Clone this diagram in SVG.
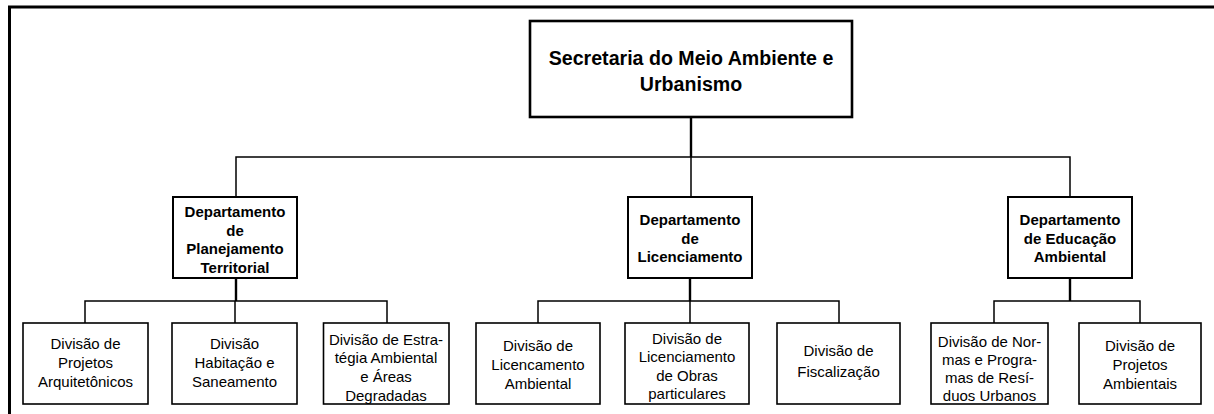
<svg xmlns="http://www.w3.org/2000/svg" width="1214" height="414" viewBox="0 0 1214 414">
<style>
.frame{fill:none;stroke:#000;stroke-width:3}
.box{fill:#fff;stroke:#000}
.top{stroke-width:2.6}
.dept{stroke-width:2}
.div{stroke-width:1.6}
.con{fill:none;stroke:#000;stroke-width:1.5}
.conb{fill:none;stroke:#000;stroke-width:2.4}
text{font-family:"Liberation Sans",Arial,sans-serif;fill:#000;text-anchor:middle}
.t1{font-size:19.6px;font-weight:bold}
.t2{font-size:15px;font-weight:bold}
.t3{font-size:15px}
</style>
<rect width="1214" height="414" fill="#fff"/>
<path class="frame" d="M9.5,414 V7 H1214"/>
<g id="connectors">
<path class="conb" d="M691,117 V157"/>
<path class="con" d="M236,197 V157 H1070 V197 M691,157 V197"/>
<path class="conb" d="M236,278 V301 M690,278 V301 M1070,278 V301"/>
<path class="con" d="M85,323 V301 H387 V323 M235,301 V323"/>
<path class="con" d="M538,323 V301 H839 V323 M690,301 V323"/>
<path class="con" d="M994,323 V301 H1140 V323"/>
</g>
<g id="secretaria">
<rect class="box top" x="530" y="21" width="322" height="96"/>
<text class="t1" x="691" y="65">Secretaria do Meio Ambiente e</text>
<text class="t1" x="691" y="91">Urbanismo</text>
</g>
<g id="dep-planejamento">
<rect class="box dept" x="173" y="197" width="124" height="81"/>
<text class="t2" x="235" y="217">Departamento</text>
<text class="t2" x="235" y="235.7">de</text>
<text class="t2" x="235" y="254.4">Planejamento</text>
<text class="t2" x="235" y="273.1">Territorial</text>
</g>
<g id="dep-licenciamento">
<rect class="box dept" x="628" y="197" width="124" height="81"/>
<text class="t2" x="690" y="225">Departamento</text>
<text class="t2" x="690" y="243.7">de</text>
<text class="t2" x="690" y="262.4">Licenciamento</text>
</g>
<g id="dep-educacao">
<rect class="box dept" x="1008" y="197" width="124" height="81"/>
<text class="t2" x="1070" y="225">Departamento</text>
<text class="t2" x="1070" y="243.7">de Educação</text>
<text class="t2" x="1070" y="262.4">Ambiental</text>
</g>
<g id="div-projetos-arq">
<rect class="box div" x="23" y="323" width="125" height="81"/>
<text class="t3" x="85.5" y="348.5">Divisão de</text>
<text class="t3" x="85.5" y="367.5">Projetos</text>
<text class="t3" x="85.5" y="386.5">Arquitetônicos</text>
</g>
<g id="div-habitacao">
<rect class="box div" x="172" y="323" width="125" height="81"/>
<text class="t3" x="234.5" y="348.5">Divisão</text>
<text class="t3" x="234.5" y="367.5">Habitação e</text>
<text class="t3" x="234.5" y="386.5">Saneamento</text>
</g>
<g id="div-estrategia">
<rect class="box div" x="323.5" y="323" width="125.5" height="81"/>
<text class="t3" x="386" y="344.5">Divisão de Estra-</text>
<text class="t3" x="386" y="363.2">tégia Ambiental</text>
<text class="t3" x="386" y="381.9">e Áreas</text>
<text class="t3" x="386" y="400.6">Degradadas</text>
</g>
<g id="div-lic-ambiental">
<rect class="box div" x="476" y="323" width="124" height="81"/>
<text class="t3" x="538" y="351">Divisão de</text>
<text class="t3" x="538" y="370">Licencamento</text>
<text class="t3" x="538" y="389">Ambiental</text>
</g>
<g id="div-lic-obras">
<rect class="box div" x="625" y="323" width="124" height="81"/>
<text class="t3" x="687" y="343.5">Divisão de</text>
<text class="t3" x="687" y="362">Licenciamento</text>
<text class="t3" x="687" y="380.5">de Obras</text>
<text class="t3" x="687" y="399">particulares</text>
</g>
<g id="div-fiscalizacao">
<rect class="box div" x="777" y="323" width="123" height="81"/>
<text class="t3" x="838.5" y="356">Divisão de</text>
<text class="t3" x="838.5" y="377">Fiscalização</text>
</g>
<g id="div-normas">
<rect class="box div" x="931" y="323" width="117" height="81"/>
<text class="t3" x="989.5" y="346.5">Divisão de Nor-</text>
<text class="t3" x="989.5" y="364.5">mas e Progra-</text>
<text class="t3" x="989.5" y="382.5">mas de Resí-</text>
<text class="t3" x="989.5" y="400.5">duos Urbanos</text>
</g>
<g id="div-projetos-amb">
<rect class="box div" x="1079" y="323" width="122" height="81"/>
<text class="t3" x="1140" y="351">Divisão de</text>
<text class="t3" x="1140" y="370">Projetos</text>
<text class="t3" x="1140" y="389">Ambientais</text>
</g>
</svg>
